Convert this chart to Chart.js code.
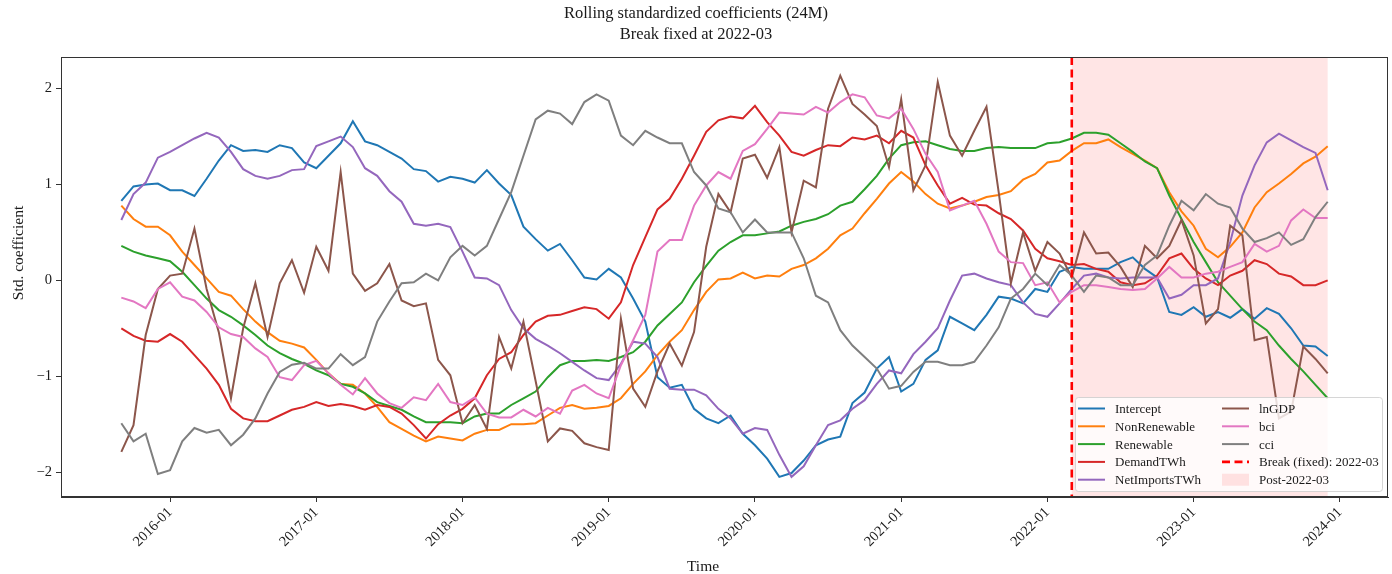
<!DOCTYPE html>
<html>
<head>
<meta charset="utf-8">
<script src="https://cdn.jsdelivr.net/npm/chart.js@4.4.1/dist/chart.umd.min.js"></script>
<style>
  html, body { margin: 0; padding: 0; background: #ffffff; }
  #wrap { width: 1392px; height: 574px; position: relative; }
</style>
</head>
<body>
<div id="wrap"><canvas id="chart" width="1392" height="574"></canvas></div>
<script>
// Monthly observations, 2015-09 .. 2023-12
const firstMonth = '2015-09';
const monthCount = 100;

const titleLines = ['Rolling standardized coefficients (24M)', 'Break fixed at 2022-03'];
const xTitle = 'Time';
const yTitle = 'Std. coefficient';
const breakMonth = '2022-03';
const lastMonth = '2023-12';
const tickYears = ['2016', '2017', '2018', '2019', '2020', '2021', '2022', '2023', '2024'];
const yTickValues = [-2, -1, 0, 1, 2];

const seriesNames = ['Intercept', 'NonRenewable', 'Renewable', 'DemandTWh', 'NetImportsTWh', 'lnGDP', 'bci', 'cci'];
const seriesColors = ['#1f77b4', '#ff7f0e', '#2ca02c', '#d62728', '#9467bd', '#8c564b', '#e377c2', '#7f7f7f'];

const intercept = [0.83,0.98,1.00,1.01,0.94,0.94,0.88,1.06,1.25,1.41, 1.35,1.36,1.34,1.41,1.38,1.23,1.17,1.30,1.43,1.66,
  1.45,1.41,1.34,1.27,1.16,1.14,1.03,1.08,1.06,1.02, 1.15,1.01,0.89,0.56,0.43,0.31,0.38,0.21,0.03,0.01,
  0.12,0.03,-0.19,-0.43,-1.01,-1.12,-1.09,-1.34,-1.44,-1.49, -1.41,-1.60,-1.72,-1.86,-2.05,-2.01,-1.88,-1.72,-1.66,-1.63,
  -1.28,-1.17,-0.92,-0.80,-1.16,-1.08,-0.83,-0.73,-0.38,-0.45, -0.52,-0.36,-0.17,-0.19,-0.24,-0.09,-0.12,0.09,0.14,0.12,
  0.12,0.12,0.19,0.24,0.12,0.03,-0.33,-0.36,-0.28,-0.38, -0.33,-0.39,-0.30,-0.40,-0.29,-0.35,-0.50,-0.68,-0.69,-0.79];

const nonRenewable = [0.78,0.64,0.56,0.56,0.47,0.30,0.16,0.02,-0.12,-0.16, -0.30,-0.43,-0.54,-0.63,-0.66,-0.70,-0.83,-0.97,-1.08,-1.09,
  -1.18,-1.32,-1.48,-1.55,-1.62,-1.68,-1.63,-1.65,-1.67,-1.60, -1.56,-1.56,-1.50,-1.50,-1.49,-1.41,-1.33,-1.30,-1.34,-1.33,
  -1.31,-1.23,-1.08,-0.95,-0.78,-0.64,-0.52,-0.31,-0.12,0.01, 0.02,0.08,0.02,0.05,0.04,0.12,0.16,0.23,0.33,0.47,
  0.54,0.70,0.85,1.01,1.13,1.03,0.90,0.80,0.75,0.78, 0.82,0.87,0.89,0.93,1.05,1.11,1.23,1.25,1.35,1.43,
  1.43,1.47,1.39,1.32,1.25,1.17,0.92,0.72,0.57,0.33, 0.24,0.35,0.50,0.76,0.92,1.01,1.11,1.22,1.29,1.40];

const renewable = [0.36,0.30,0.26,0.23,0.20,0.09,-0.05,-0.19,-0.31,-0.38, -0.47,-0.57,-0.68,-0.76,-0.82,-0.87,-0.94,-0.99,-1.08,-1.11,
  -1.18,-1.27,-1.31,-1.35,-1.42,-1.48,-1.48,-1.48,-1.49,-1.42, -1.39,-1.39,-1.30,-1.23,-1.16,-1.01,-0.885,-0.84,-0.84,-0.83,
  -0.84,-0.80,-0.75,-0.64,-0.47,-0.35,-0.23,-0.02,0.15,0.31, 0.40,0.47,0.47,0.49,0.51,0.57,0.61,0.64,0.69,0.78,
  0.82,0.95,1.09,1.27,1.41,1.44,1.45,1.41,1.37,1.35, 1.35,1.38,1.39,1.38,1.38,1.38,1.43,1.44,1.48,1.54,
  1.54,1.52,1.43,1.34,1.24,1.17,0.885,0.64,0.40,0.19, -0.02,-0.16,-0.30,-0.43,-0.52,-0.68,-0.82,-0.95,-1.09,-1.23];

const demandTWh = [-0.50,-0.58,-0.63,-0.64,-0.56,-0.64,-0.78,-0.92,-1.09,-1.34, -1.44,-1.47,-1.47,-1.41,-1.35,-1.32,-1.27,-1.31,-1.29,-1.31,
  -1.35,-1.30,-1.32,-1.39,-1.51,-1.65,-1.50,-1.41,-1.34,-1.23, -0.99,-0.82,-0.75,-0.57,-0.43,-0.37,-0.36,-0.32,-0.28,-0.30,
  -0.40,-0.23,0.16,0.45,0.74,0.85,1.06,1.30,1.55,1.67, 1.71,1.69,1.82,1.65,1.51,1.34,1.30,1.36,1.41,1.40,
  1.49,1.47,1.51,1.43,1.56,1.49,1.20,0.99,0.80,0.86, 0.79,0.78,0.70,0.64,0.52,0.33,0.23,0.20,0.16,0.17,
  0.12,0.09,-0.02,-0.05,-0.03,0.05,0.23,0.28,0.12,0.02, -0.05,0.05,0.10,0.21,0.17,0.07,0.04,-0.05,-0.05,0.00];

const netImportsTWh = [0.63,0.90,1.02,1.28,1.34,1.41,1.48,1.54,1.49,1.34, 1.16,1.09,1.06,1.09,1.15,1.16,1.40,1.45,1.50,1.39,
  1.17,1.09,0.93,0.82,0.59,0.57,0.59,0.555,0.30,0.03, 0.02,-0.05,-0.31,-0.50,-0.61,-0.68,-0.76,-0.85,-0.94,-1.02,
  -1.04,-0.87,-0.64,-0.66,-0.80,-1.13,-1.14,-1.14,-1.20,-1.34, -1.44,-1.60,-1.54,-1.56,-1.82,-2.05,-1.94,-1.72,-1.51,-1.46,
  -1.34,-1.25,-1.08,-0.94,-0.97,-0.77,-0.64,-0.50,-0.21,0.05, 0.07,0.02,-0.02,-0.05,-0.23,-0.35,-0.38,-0.24,-0.09,0.05,
  0.07,0.03,0.02,0.03,0.03,0.03,-0.19,-0.15,-0.05,-0.05, 0.02,0.40,0.885,1.20,1.44,1.53,1.46,1.39,1.33,0.94];

const lnGDP = [-1.79,-1.51,-0.57,-0.09,0.05,0.07,0.54,-0.09,-0.54,-1.23, -0.50,-0.03,-0.59,-0.03,0.21,-0.13,0.35,0.10,1.13,0.07,
  -0.11,-0.03,0.17,-0.21,-0.27,-0.24,-0.83,-0.99,-1.49,-1.30, -1.55,-0.59,-0.92,-0.43,-1.05,-1.68,-1.545,-1.57,-1.70,-1.74,
  -1.77,-0.40,-1.13,-1.32,-0.95,-0.66,-0.89,-0.54,0.35,0.90, 0.71,1.27,1.31,1.07,1.39,0.50,1.04,0.97,1.79,2.135,
  1.84,1.73,1.61,1.18,1.89,0.94,1.20,2.07,1.51,1.30, 1.56,1.81,0.92,-0.03,0.50,0.10,0.40,0.28,0.03,0.50,
  0.28,0.29,0.14,-0.07,0.36,0.23,0.36,0.63,0.26,-0.45, -0.30,0.57,0.47,-0.625,-0.59,-1.44,-1.37,-0.69,-0.82,-0.97];

const bci = [-0.18,-0.22,-0.29,-0.09,-0.02,-0.17,-0.21,-0.33,-0.49,-0.56, -0.59,-0.71,-0.80,-1.01,-1.04,-0.885,-0.84,-0.97,-1.09,-1.19,
  -1.02,-1.18,-1.28,-1.33,-1.22,-1.25,-1.08,-1.27,-1.30,-1.22, -1.39,-1.43,-1.43,-1.35,-1.42,-1.33,-1.39,-1.15,-1.09,-1.18,
  -1.23,-0.885,-0.625,-0.36,0.30,0.42,0.42,0.78,0.99,1.13, 1.06,1.35,1.42,1.58,1.75,1.74,1.73,1.81,1.75,1.86,
  1.94,1.91,1.72,1.69,1.79,1.58,1.32,1.13,0.73,0.78, 0.83,0.59,0.30,0.19,0.18,-0.05,-0.02,-0.23,-0.12,-0.05,
  -0.05,-0.07,-0.09,-0.10,-0.09,0.02,0.14,0.03,0.03,0.07, 0.09,0.14,0.19,0.38,0.30,0.36,0.625,0.74,0.65,0.65];

const cci = [-1.49,-1.68,-1.60,-2.02,-1.98,-1.68,-1.54,-1.59,-1.56,-1.72, -1.61,-1.44,-1.18,-0.955,-0.88,-0.86,-0.92,-0.92,-0.77,-0.885,
  -0.80,-0.43,-0.22,-0.03,-0.02,0.07,0.00,0.24,0.36,0.26, 0.36,0.64,0.92,1.30,1.68,1.77,1.74,1.63,1.86,1.94,
  1.875,1.51,1.41,1.56,1.49,1.43,1.43,1.13,0.99,0.75, 0.71,0.50,0.635,0.50,0.50,0.50,0.23,-0.16,-0.23,-0.52,
  -0.68,-0.80,-0.92,-1.13,-1.10,-0.955,-0.85,-0.85,-0.885,-0.885, -0.85,-0.68,-0.49,-0.19,-0.09,0.07,-0.05,0.16,0.05,-0.12,
  0.05,0.03,-0.05,-0.05,0.16,0.26,0.57,0.83,0.73,0.90, 0.80,0.76,0.54,0.40,0.44,0.50,0.37,0.43,0.66,0.82];

const seriesValues = [intercept, nonRenewable, renewable, demandTWh, netImportsTWh, lnGDP, bci, cci];

// ---- month helpers ----
function monthIndex(label) {
  const [y0, m0] = firstMonth.split('-').map(Number);
  const [y, m] = label.split('-').map(Number);
  return (y - y0) * 12 + (m - m0);
}
function monthLabel(idx) {
  const [y0, m0] = firstMonth.split('-').map(Number);
  const t = (m0 - 1) + Math.round(idx);
  return (y0 + Math.floor(t / 12)) + '-' + String((t % 12) + 1).padStart(2, '0');
}
const months = Array.from({ length: monthCount }, (_, i) => monthLabel(i));

const SERIF = '"Liberation Serif", "DejaVu Serif", "Times New Roman", serif';
const INK = '#1a1a1a';
const xPad = (monthCount - 1) * 0.05;

// shaded post-break span, drawn under the lines
const spanPlugin = {
  id: 'postBreakSpan',
  beforeDatasetsDraw(chart) {
    const { ctx, chartArea: a, scales: { x } } = chart;
    const x0 = x.getPixelForValue(monthIndex(breakMonth));
    const x1 = x.getPixelForValue(monthIndex(lastMonth));
    ctx.save();
    ctx.fillStyle = 'rgba(255, 0, 0, 0.1)';
    ctx.fillRect(x0, a.top, x1 - x0, a.bottom - a.top);
    ctx.restore();
  }
};

// break line, frame, legend box and titles
const overlayPlugin = {
  id: 'overlay',
  afterDatasetsDraw(chart) {
    const { ctx, chartArea: a, scales: { x } } = chart;
    ctx.save();

    // dashed break line
    const xb = x.getPixelForValue(monthIndex(breakMonth));
    ctx.strokeStyle = '#ff0000';
    ctx.lineWidth = 2.6;
    ctx.setLineDash([8, 4.5]);
    ctx.beginPath();
    ctx.moveTo(xb, a.top);
    ctx.lineTo(xb, a.bottom);
    ctx.stroke();
    ctx.setLineDash([]);

    // axes frame
    ctx.strokeStyle = '#333';
    ctx.lineWidth = 1;
    ctx.strokeRect(Math.round(a.left) + 0.5, Math.round(a.top) + 0.5,
      Math.round(a.right - a.left) - 1, Math.round(a.bottom - a.top) - 1);

    // legend (two columns, lower right inside the axes)
    const lx = 1075, ly = 397, lw = 307, lh = 94;
    ctx.fillStyle = 'rgba(255,255,255,0.8)';
    ctx.strokeStyle = 'rgba(204,204,204,0.8)';
    ctx.lineWidth = 1;
    ctx.beginPath();
    if (ctx.roundRect) ctx.roundRect(lx + 0.5, ly + 0.5, lw, lh, 3); else ctx.rect(lx + 0.5, ly + 0.5, lw, lh);
    ctx.fill();
    ctx.stroke();

    const rowY = (r) => 408.5 + r * 17.8;
    const cols = [{ hx: 1078, tx: 1115 }, { hx: 1222, tx: 1259 }];
    const items = seriesNames.map((n, k) => ({ label: n, color: seriesColors[k], kind: 'line' }));
    items.push({ label: 'Break (fixed): ' + breakMonth, color: '#ff0000', kind: 'dash' });
    items.push({ label: 'Post-' + breakMonth, color: 'rgba(255,0,0,0.1)', kind: 'patch' });
    ctx.font = '13px ' + SERIF;
    ctx.textBaseline = 'middle';
    ctx.textAlign = 'left';
    items.forEach((it, i) => {
      const c = cols[Math.floor(i / 5)];
      const y = rowY(i % 5);
      if (it.kind === 'patch') {
        ctx.fillStyle = it.color;
        ctx.fillRect(c.hx, y - 6, 27, 12);
      } else {
        ctx.strokeStyle = it.color;
        ctx.lineWidth = it.kind === 'dash' ? 2.6 : 2;
        ctx.setLineDash(it.kind === 'dash' ? [8, 4.5] : []);
        ctx.beginPath();
        ctx.moveTo(c.hx, y);
        ctx.lineTo(c.hx + 27, y);
        ctx.stroke();
        ctx.setLineDash([]);
      }
      ctx.fillStyle = INK;
      ctx.fillText(it.label, c.tx, y + 1);
    });

    // titles
    ctx.fillStyle = INK;
    ctx.textAlign = 'center';
    ctx.textBaseline = 'middle';
    ctx.font = '16.5px ' + SERIF;
    ctx.fillText(titleLines[0], 696, 14);
    ctx.fillText(titleLines[1], 696, 35);

    ctx.font = '15.5px ' + SERIF;
    ctx.fillText(xTitle, 703, 567);
    ctx.translate(19, 253);
    ctx.rotate(-Math.PI / 2);
    ctx.fillText(yTitle, 0, 0);
    ctx.restore();
  }
};

const tickFont = { family: SERIF, size: 14.5 };

new Chart(document.getElementById('chart'), {
  type: 'line',
  data: {
    datasets: seriesNames.map((name, k) => ({
      label: name,
      data: seriesValues[k].map((v, i) => ({ x: i, y: v })),
      borderColor: seriesColors[k],
      backgroundColor: seriesColors[k],
      borderWidth: 2,
      pointRadius: 0,
      tension: 0,
      fill: false,
      order: seriesNames.length - k
    }))
  },
  options: {
    responsive: false,
    animation: false,
    devicePixelRatio: 1,
    layout: { padding: { top: 57, right: 4, left: 0, bottom: 0 } },
    plugins: { legend: { display: false }, title: { display: false }, tooltip: { enabled: false } },
    scales: {
      x: {
        type: 'linear',
        min: -xPad,
        max: monthCount - 1 + xPad,
        afterBuildTicks: (s) => { s.ticks = tickYears.map((y) => ({ value: monthIndex(y + '-01') })); },
        afterFit: (s) => { s.height = 77; },
        ticks: {
          autoSkip: false,
          minRotation: 45,
          maxRotation: 45,
          padding: 2,
          color: INK,
          font: tickFont,
          callback: (v) => monthLabel(v)
        },
        grid: { display: true, drawOnChartArea: false, drawTicks: true, tickLength: 5, color: '#333' },
        border: { display: true, color: '#333', width: 1 }
      },
      y: {
        min: -2.26,
        max: 2.33,
        afterBuildTicks: (s) => { s.ticks = yTickValues.map((v) => ({ value: v })); },
        afterFit: (s) => { s.width = 61; },
        ticks: {
          padding: 4,
          color: INK,
          font: tickFont,
          callback: (v) => (v < 0 ? '\u2212' + Math.abs(v) : String(v))
        },
        grid: { display: true, drawOnChartArea: false, drawTicks: true, tickLength: 5, color: '#333' },
        border: { display: true, color: '#333', width: 1 }
      }
    }
  },
  plugins: [spanPlugin, overlayPlugin]
});
</script>
</body>
</html>
